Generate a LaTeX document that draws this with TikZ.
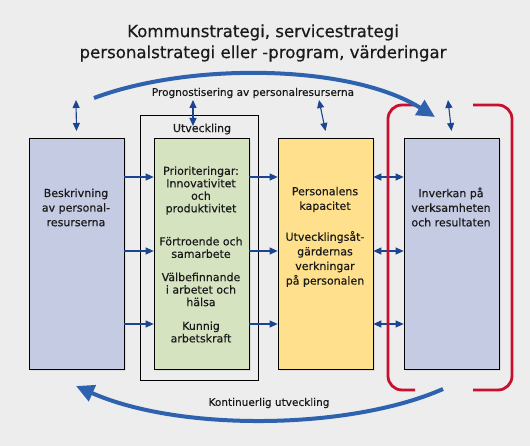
\documentclass[tikz,border=0pt]{standalone}
\usepackage{fontspec}
\setmainfont{DejaVu Sans}
\newfontfamily\medfont{DejaVu Sans}[FakeBold=0.4]
\usetikzlibrary{arrows.meta,shadows}
\definecolor{bgc}{HTML}{EDEDED}
\definecolor{boxblue}{HTML}{C5CBE3}
\definecolor{boxgreen}{HTML}{D5E3C1}
\definecolor{boxyellow}{HTML}{FFE08C}
\definecolor{arrblue}{HTML}{1C4591}
\definecolor{arcblue}{HTML}{2E62AE}
\definecolor{redbr}{HTML}{C8102E}
\definecolor{txt}{HTML}{1A1A1A}
\tikzset{
  box/.style={draw=black, line width=0.7pt, minimum width=95pt, minimum height=231pt, inner sep=0pt, drop shadow={opacity=0.15,shadow xshift=2pt,shadow yshift=-2pt}},
  boxtext/.style={align=center, font=\medfont\fontsize{11}{12.5}\selectfont, text=txt, inner sep=0pt},
  widetext/.style={boxtext, font=\medfont\fontsize{11}{14.6}\selectfont},
  small/.style={draw=arrblue, line width=1.1pt, -{Triangle[length=8pt,width=7pt]}},
  smalldbl/.style={draw=arrblue, line width=1.1pt, {Triangle[length=8pt,width=7pt]}-{Triangle[length=8pt,width=7pt]}},
  bigarc/.style={draw=arcblue, line width=4pt, -{Triangle[length=18pt,width=17pt]}},
  bracket/.style={draw=redbr, line width=2.8pt, rounded corners=14pt},
  label/.style={font=\medfont\fontsize{10.5}{11}\selectfont, text=txt}
}
\begin{document}
\begin{tikzpicture}[x=1pt,y=-1pt]
\fill[bgc] (0,0) rectangle (530,446);
\useasboundingbox (0,0) rectangle (530,446);
% title
\node[align=center, font=\medfont\fontsize{16.6}{21}\selectfont, text=txt] (title) at (263,43) {Kommunstrategi, servicestrategi\\personalstrategi eller -program, värderingar};
% outer development box
\node[draw=black, line width=0.7pt, minimum width=118pt, minimum height=265pt, inner sep=0pt] (outer) at (199,247.5) {};
\node[boxtext] (utv) at (202,129) {Utveckling};
% boxes
\node[box, fill=boxblue] (L) at (76.5,253.5) {};
\node[box, fill=boxgreen] (G) at (201.5,253.5) {};
\node[box, fill=boxyellow] (Y) at (325.5,253.5) {};
\node[box, fill=boxblue] (R) at (451.5,253.5) {};
% box texts
\node[widetext] (Lt) at (76,207.5) {Beskrivning\\av personal-\\resurserna};
\node[boxtext] (Gt1) at (201,190.5) {Prioriteringar:\\Innovativitet\\och\\produktivitet};
\node[boxtext] (Gt2) at (201,247.5) {Förtroende och\\samarbete};
\node[boxtext] (Gt3) at (201,289.5) {Välbefinnande\\i arbetet och\\hälsa};
\node[boxtext] (Gt4) at (201,332) {Kunnig\\arbetskraft};
\node[widetext] (Yt1) at (325,199.5) {Personalens\\kapacitet};
\node[widetext] (Yt2) at (325,259) {Utvecklingsåt-\\gärdernas\\verkningar\\på personalen};
\node[widetext] (Rt) at (451,207) {Inverkan på\\verksamheten\\och resultaten};
% vertical arrows
\coordinate (vL) at (76,100);
\coordinate (vG) at (193,100);
\coordinate (vY) at (319,100);
\coordinate (vR) at (448,100);
\coordinate (vGe) at (193,126);
\draw[smalldbl] (vL) -- (L.north |- 0,131);
\draw[smalldbl] (vG) -- (vGe);
\draw[smalldbl] (vY) -- (Y.north |- 0,131);
\draw[smalldbl] (vR) -- (R.north |- 0,131);
% horizontal arrows
\foreach \yy in {177,251,324}{
  \draw[small] (L.east |- 0,\yy) -- (G.west |- 0,\yy);
  \draw[small] (G.east |- 0,\yy) -- (Y.west |- 0,\yy);
  \draw[smalldbl] (Y.east |- 0,\yy) -- (R.west |- 0,\yy);
}
% red bracket
\draw[bracket] (415,105) -- (388,105) -- (388,390) -- (415,390);
\draw[bracket] (473,105) -- (512,105) -- (512,390) -- (473,390);
% big arcs
\coordinate (a1) at (94,98);
\coordinate (a2) at (435,117);
\draw[bigarc] (a1) .. controls (190,62) and (350,64) .. (a2);
\node[label] (prog) at (253,93) {Prognostisering av personalresurserna};
\coordinate (b1) at (443,389);
\coordinate (b2) at (76,386);
\draw[bigarc] (b1) .. controls (350,430) and (180,432) .. (b2);
\node[label] (kont) at (269,403) {Kontinuerlig utveckling};
\end{tikzpicture}
\end{document}
